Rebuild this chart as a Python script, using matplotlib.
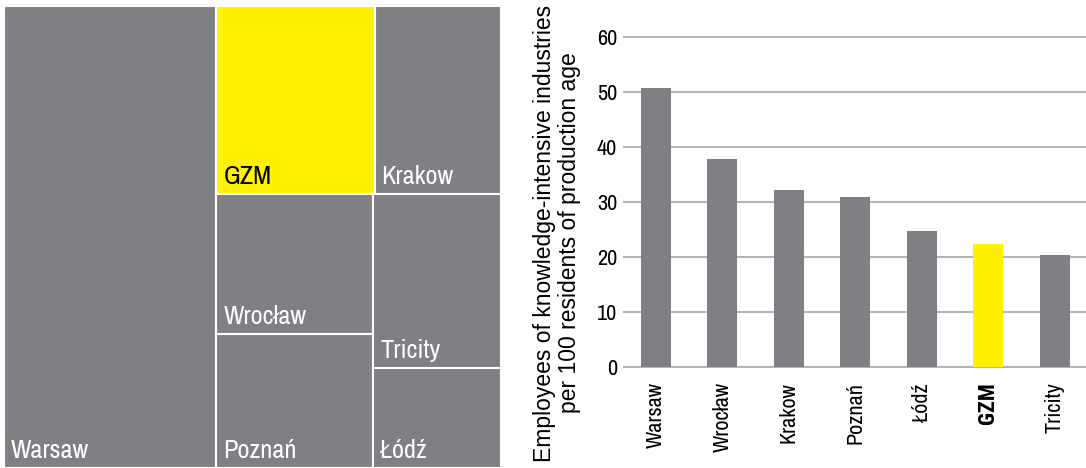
import matplotlib
matplotlib.use("Agg")
import matplotlib.pyplot as plt
from matplotlib.patches import Rectangle

# ---- data -------------------------------------------------------------
cities = ["Warsaw", "Wrocław", "Krakow", "Poznań", "Łódź", "GZM", "Tricity"]
per_100 = [50.6, 37.8, 32.2, 30.9, 24.7, 22.4, 20.4]

# treemap sizes (thousands of employees in knowledge-intensive industries)
tm_names = ["Warsaw", "GZM", "Krakow", "Wrocław", "Poznań", "Tricity", "Łódź"]
tm_values = [560, 170, 136, 125, 120, 126, 73]

y_ticks = [0, 10, 20, 30, 40, 50, 60]
highlight = "GZM"

GREY = "#808084"
YELLOW = "#fff200"

NARROW = ["Archivo Narrow", "DejaVu Sans"]
NARROW_BOLD = ["Roboto Condensed", "DejaVu Sans"]
REG = ["Liberation Sans", "DejaVu Sans"]

W, H = 1086, 468
fig = plt.figure(figsize=(W / 100, H / 100), dpi=100)

# ---- treemap ----------------------------------------------------------
tx0, tx1, ty0, ty1 = 4, 501, 0, 462  # pixel extents (ty from bottom)
axT = fig.add_axes([tx0 / W, ty0 / H, (tx1 - tx0) / W, (ty1 - ty0) / H])
axT.set_xlim(0, 1)
axT.set_ylim(0, 1)
axT.axis("off")

val = dict(zip(tm_names, tm_values))
total = sum(tm_values)
rects = {}
# Warsaw takes a full-height column on the left
w_war = val["Warsaw"] / total
rects["Warsaw"] = (0, 0, w_war, 1)
rest = total - val["Warsaw"]
rw = 1 - w_war
# top row: GZM + Krakow
top = val["GZM"] + val["Krakow"]
h_top = top / rest
x = w_war
for n in ["GZM", "Krakow"]:
    w = rw * val[n] / top
    rects[n] = (x, 1 - h_top, w, h_top)
    x += w
# bottom part: two columns
bottom_h = 1 - h_top
cols = [["Wrocław", "Poznań"], ["Tricity", "Łódź"]]
bot_total = sum(val[n] for c in cols for n in c)
x = w_war
for c in cols:
    csum = sum(val[n] for n in c)
    w = rw * csum / bot_total
    ytop = bottom_h
    for n in c:
        h = bottom_h * val[n] / csum
        rects[n] = (x, ytop - h, w, h)
        ytop -= h
    x += w

for n, (x, y, w, h) in rects.items():
    col = YELLOW if n == highlight else GREY
    axT.add_patch(Rectangle((x, y), w, h, facecolor=col, edgecolor="white",
                            linewidth=1.5, clip_on=False))
    axT.annotate(n, (x, y), xytext=(7, 6), textcoords="offset pixels",
                 ha="left", va="bottom", fontsize=19, family=NARROW,
                 color="black" if n == highlight else "white")
axT.add_patch(Rectangle((0, 0), 1, 1, facecolor="none", edgecolor="#d8d8d8",
                        linewidth=1.5, clip_on=False, zorder=0))

# ---- bar chart --------------------------------------------------------
y0px, y60px = 366.7, 36.7
axB = fig.add_axes([624 / W, (H - y0px) / H, (W - 624) / W, (y0px - y60px) / H])
xs = list(range(len(cities)))
colors = [YELLOW if c == highlight else GREY for c in cities]
axB.bar(xs, per_100, width=0.45, color=colors, zorder=2)
axB.set_xlim(-0.48, len(cities) - 0.53)
axB.set_ylim(0, 60)
axB.set_yticks(y_ticks)
axB.set_yticklabels([str(t) for t in y_ticks], fontsize=16, family=NARROW)
axB.set_xticks(xs)
axB.set_xticklabels(cities, rotation=90, fontsize=16, family=NARROW)
for lbl in axB.get_xticklabels():
    if lbl.get_text() == highlight:
        lbl.set_family(NARROW_BOLD)
        lbl.set_fontweight("bold")
axB.tick_params(axis="both", length=0, colors="black")
axB.tick_params(axis="y", pad=5)
axB.tick_params(axis="x", pad=11)
axB.grid(axis="y", color="#b5b5b5", linewidth=1.5)
for gl in axB.get_ygridlines():
    gl.set_clip_on(False)
    gl.set_zorder(1)
for s in axB.spines.values():
    s.set_visible(False)

fig.text(557 / W, (H - 233) / H,
         "Employees of knowledge-intensive industries\nper 100 residents of production age",
         rotation=90, ha="center", va="center", multialignment="center",
         fontsize=16.5, family=REG, linespacing=1.1)

fig.savefig("out.png", dpi=100)
